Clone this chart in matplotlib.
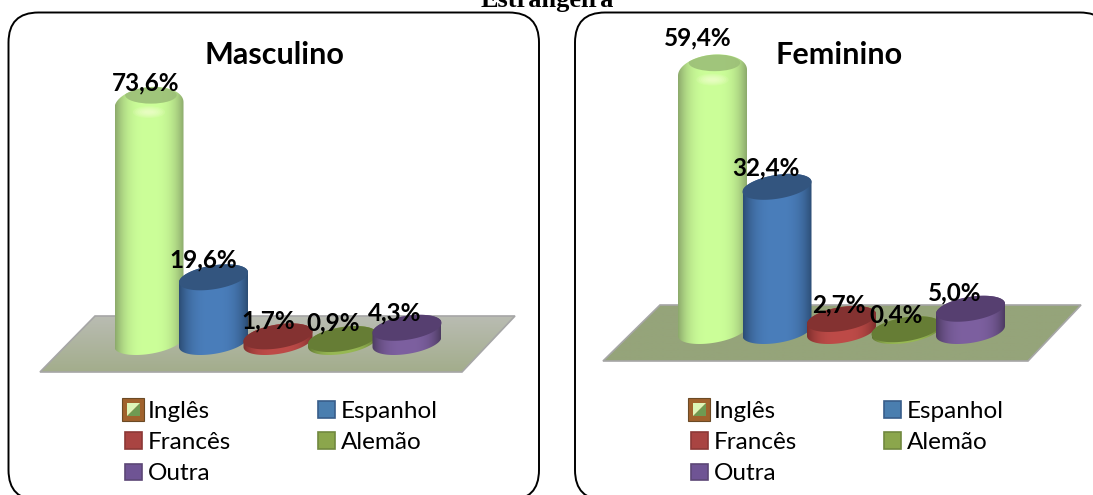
import numpy as np
import matplotlib
matplotlib.use("Agg")
import matplotlib.pyplot as plt
from matplotlib.colors import to_rgb
from matplotlib.legend_handler import HandlerBase
from matplotlib.patches import Ellipse, FancyBboxPatch, Patch, Polygon, Rectangle

plt.rcParams['font.family'] = ['Lato', 'DejaVu Sans']

W, H = 1093, 495

languages = ['Inglês', 'Espanhol', 'Francês', 'Alemão', 'Outra']
masculino = [73.6, 19.6, 1.7, 0.9, 4.3]
feminino = [59.4, 32.4, 2.7, 0.4, 5.0]

centers = ['#CCFF99', '#4A7EBB', '#BE4B48', '#98B954', '#7D60A0']
edges = ['#8DAA6C', '#2C4D75', '#7E2F2D', '#5F7530', '#4D3B62']
tops = ['#9CBF78', '#33557F', '#843231', '#667D35', '#563F70']
legend_colors = ['#B9D98F', '#4A7EAF', '#A94442', '#8BA64C', '#6F5494']
legend_edges = ['#A0622D', '#385D8A', '#8C3836', '#71893F', '#5C4776']

STEP = 64.5      # px between cylinders
RX = 34.5 / STEP # cylinder half width in category units
RY = 12.0        # px
SHEAR = 5.0      # px, tilt of the ellipses


def gradient(center, edge, n=80):
    u = np.linspace(-1, 1, n)
    t = (1 - np.abs(u) ** 3)[None, :, None]
    c0, c1 = np.array(to_rgb(center)), np.array(to_rgb(edge))
    return c1 + (c0 - c1) * t


def ring(i, y, scale, ts, ry=RY, shear=SHEAR):
    x = i + RX * np.cos(ts)
    yy = y + (ry * np.sin(ts) + shear * np.cos(ts)) / scale
    return np.column_stack([x, yy])


def cylinder(ax, i, value, scale, z):
    ts_low = np.linspace(np.pi, 2 * np.pi, 50)
    ts_up = np.linspace(0, np.pi, 50)
    if i == 0:
        # first series has a rounded bevel on top
        outline = np.vstack([ring(i, 0, scale, ts_low),
                             ring(i, value - 6 / scale, scale, ts_up, ry=18, shear=3)])
    else:
        outline = np.vstack([ring(i, 0, scale, ts_low),
                             ring(i, value, scale, ts_up)])
    body = Polygon(outline, closed=True, fc='none', ec='none', zorder=z)
    ax.add_patch(body)
    ext = (i - RX, i + RX, -20 / scale, value + 20 / scale)
    im = ax.imshow(gradient(centers[i], edges[i]), extent=ext, aspect='auto',
                   interpolation='bilinear', zorder=z)
    im.set_clip_path(body)

    if i == 0:
        glow_y = value - 13 / scale
        for k in range(6):
            e = Ellipse((i, glow_y), (0.5 - k * 0.07), (12 - 1.8 * k) / scale,
                        fc='#FFFDE0', ec='none', alpha=0.13, zorder=z + 0.2)
            ax.add_patch(e)
            e.set_clip_path(body)
        e = Ellipse((i + 0.03, value + 4 / scale), 0.8, 17 / scale,
                    fc=tops[i], ec='none', alpha=0.9, zorder=z + 0.1)
        ax.add_patch(e)
        e.set_clip_path(body)
    else:
        lid = Polygon(ring(i, value, scale, np.linspace(0, 2 * np.pi, 100)),
                      closed=True, fc=tops[i], ec='none', zorder=z + 0.1)
        ax.add_patch(lid)


class BevelHandler(HandlerBase):
    def create_artists(self, legend, orig, xd, yd, w, h, fontsize, trans):
        x0, y0 = -xd - 2, -yd - 2
        s = max(w, h) + 4
        m = s * 0.2
        a, b = x0 + m, x0 + s - m
        c, d = y0 + m, y0 + s - m
        parts = [Rectangle((x0, y0), s, s, fc='#A0622D', ec='#6B4A25', lw=0.8),
                 Polygon([(a, c), (b, c), (b, d)], fc='#6F9A52', ec='none'),
                 Polygon([(a, c), (a, d), (b, d)], fc='#DDF5B8', ec='none')]
        for p in parts:
            p.set_transform(trans)
        return parts


fig = plt.figure(figsize=(W / 100, H / 100), dpi=100, facecolor='white')
bg = fig.add_axes([0, 0, 1, 1])
bg.set_xlim(0, W)
bg.set_ylim(H, 0)
bg.set_axis_off()

bg.text(547, 7, 'Estrangeira', family='Liberation Serif', fontweight='bold',
        fontsize=19, ha='center', va='baseline')


def panel(box, floor, floor_cols, title, title_x, values, first_x, baseline, scale,
          label_off, legend_xy):
    x0, x1 = box
    frame = FancyBboxPatch((x0, 12.5), x1 - x0, 487.5,
                           boxstyle='round,pad=0,rounding_size=30',
                           fc='white', ec='black', lw=1.4, clip_on=False)
    bg.add_patch(frame)

    poly = Polygon(floor, closed=True, fc='none', ec='#A6A6A6', lw=1.2, zorder=2)
    bg.add_patch(poly)
    grad = np.linspace(0, 1, 40)[:, None, None]
    c0, c1 = np.array(to_rgb(floor_cols[0])), np.array(to_rgb(floor_cols[1]))
    fx, fy = zip(*floor)
    im = bg.imshow(c0 + (c1 - c0) * grad, aspect='auto', zorder=1.5,
                   extent=(min(fx), max(fx), max(fy), min(fy)))
    im.set_clip_path(poly)
    bg.set_xlim(0, W)
    bg.set_ylim(H, 0)

    bg.text(title_x, 55, title, fontsize=22, fontweight='bold',
            ha='center', va='center', zorder=5)

    # bars live in their own axes: x = category, y = percent
    px_top, px_bot = 5, 385
    left = first_x - 1.0 * STEP
    ax = fig.add_axes([left / W, 1 - px_bot / H, 6 * STEP / W, (px_bot - px_top) / H])
    ax.patch.set_alpha(0)
    ax.set_axis_off()
    for i, v in enumerate(values):
        cylinder(ax, i, v, scale, 3 + i)
    for i, v in enumerate(values):
        ax.annotate(f'{v:.1f}%'.replace('.', ','), (i, v),
                    xytext=label_off[i], textcoords='offset pixels',
                    ha='center', va='center', fontsize=17.5, fontweight='bold',
                    zorder=20)
    ax.set_xlim(-1, 5)
    ax.set_ylim((baseline - px_bot) / scale, (baseline - px_top) / scale)

    handles = [Patch(fc=c, ec=e, lw=1.2) for c, e in zip(legend_colors, legend_edges)]
    order = [0, 2, 4, 1, 3]
    ax.legend([handles[k] for k in order], [languages[k] for k in order],
              ncol=2, loc='upper left', bbox_to_anchor=legend_xy,
              bbox_transform=bg.transData, frameon=False, fontsize=17.5,
              handlelength=0.68, handleheight=0.68, handletextpad=0.25,
              columnspacing=3.6, labelspacing=0.42, borderpad=0, borderaxespad=0,
              handler_map={handles[0]: BevelHandler()})


panel((8.5, 539), [(40, 372), (462, 372), (515, 316), (95, 316)],
      ('#B9BCB2', '#A3AD8C'), 'Masculino', 274, masculino, 149, 342, 3.3,
      [(-3, 16), (-10, 17), (-10, 15), (-9, 16), (-12, 15)], (125, 401))

panel((575, 1110), [(603, 361), (1028, 361), (1081, 305), (660, 305)],
      ('#95A47A', '#95A47A'), 'Feminino', 839, feminino, 712.5, 331, 4.45,
      [(-15, 29), (-11, 19), (-3, 14), (-10, 14), (-16, 16)], (691, 401))

fig.savefig('out.png', dpi=100, facecolor='white')
